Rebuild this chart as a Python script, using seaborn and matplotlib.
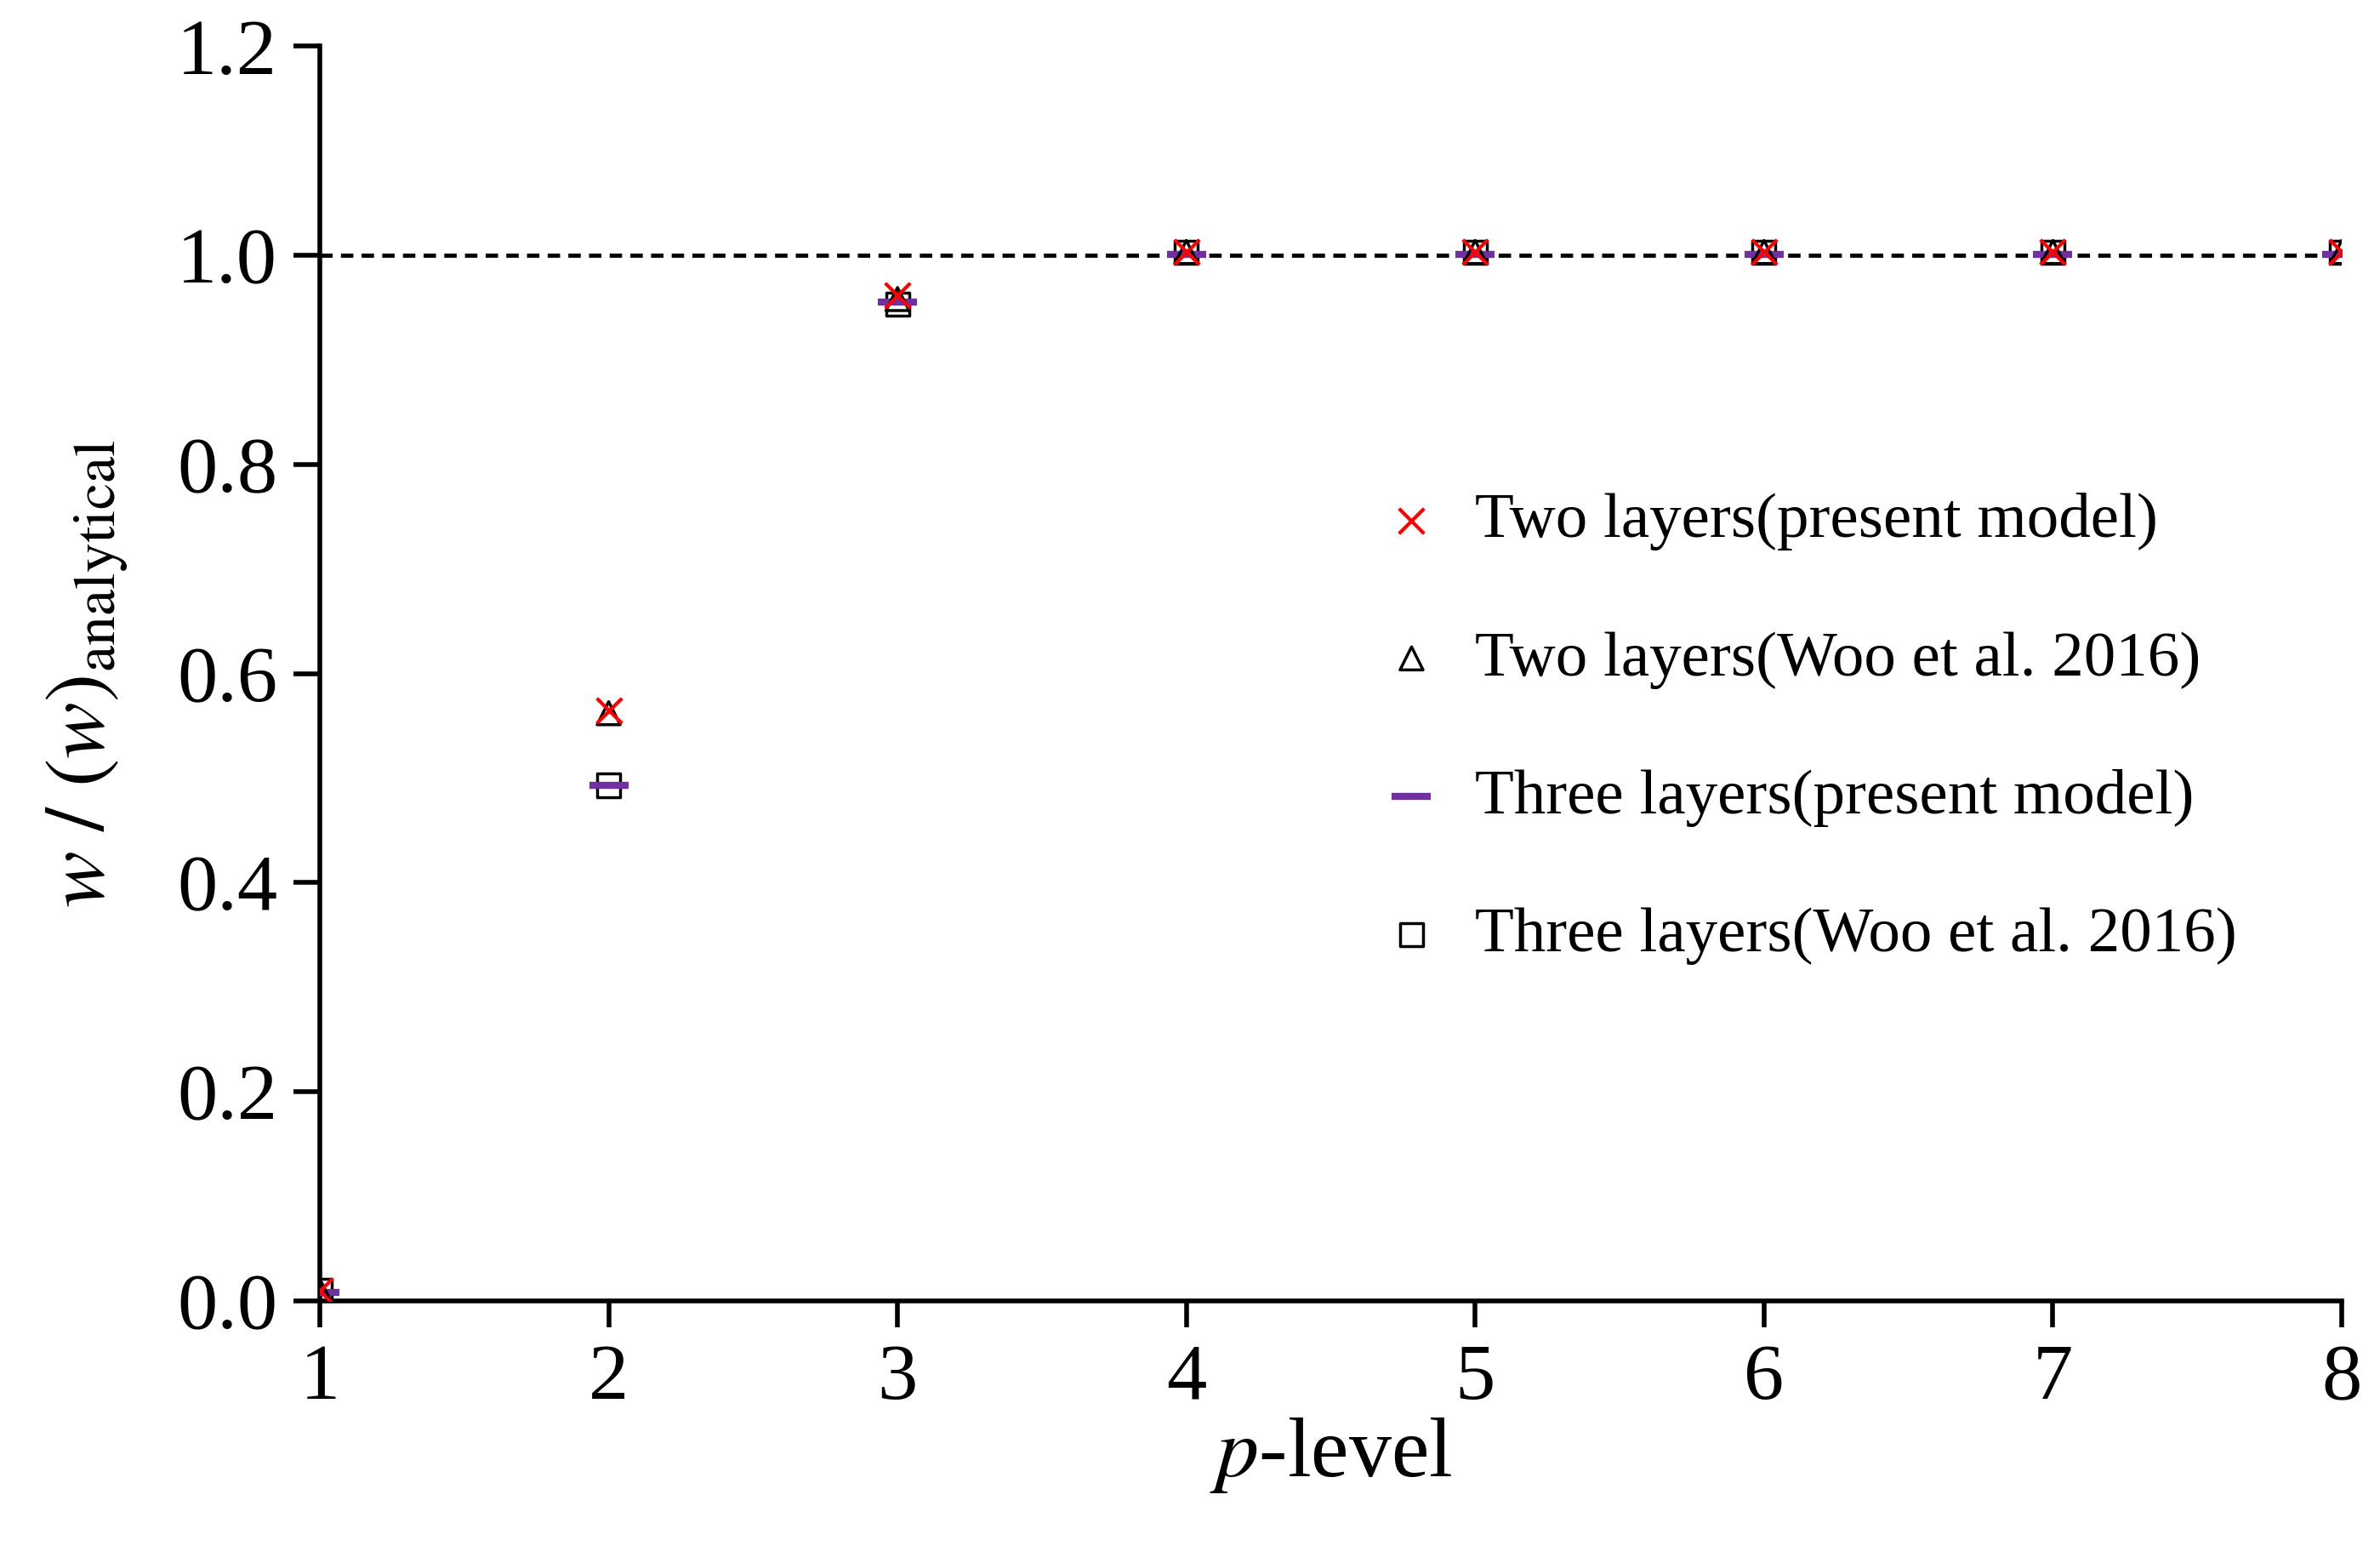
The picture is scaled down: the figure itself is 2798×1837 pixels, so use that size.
import numpy as np
import pandas as pd
import matplotlib
matplotlib.use("Agg")
import matplotlib.pyplot as plt
import seaborn as sns

p_level = [1, 2, 3, 4, 5, 6, 7, 8]
two_present = [0.010, 0.565, 0.962, 1.003, 1.003, 1.003, 1.003, 1.003]
two_woo = [0.010, 0.562, 0.958, 1.003, 1.003, 1.003, 1.003, 1.003]
three_present = [0.008, 0.493, 0.955, 1.001, 1.001, 1.001, 1.001, 1.001]
three_woo = [0.010, 0.493, 0.953, 1.003, 1.003, 1.003, 1.003, 1.003]

sns.set_style("ticks")
plt.rcParams['font.family'] = ['Liberation Serif', 'DejaVu Serif']
plt.rcParams['mathtext.fontset'] = 'stix'
plt.rcParams['text.color'] = 'black'
plt.rcParams['axes.labelcolor'] = 'black'
plt.rcParams['xtick.color'] = 'black'
plt.rcParams['ytick.color'] = 'black'
plt.rcParams['axes.edgecolor'] = 'black'

fig = plt.figure(figsize=(27.98, 18.37), dpi=100)
ax = fig.add_axes([376/2798, 1-1529/1837, (2753-376)/2798, (1529-54)/1837])

ax.axhline(1.0, color='black', ls=(0, (3, 2)), lw=3.5, zorder=1)

df = pd.DataFrame({'p': p_level, 'a': two_present, 'b': two_woo, 'c': three_present, 'd': three_woo})
sns.scatterplot(data=df, x='p', y='d', ax=ax, marker='s', s=380, facecolor='none',
                edgecolor='black', linewidth=2.5, label='Three layers(Woo et al. 2016)', zorder=3)
sns.scatterplot(data=df, x='p', y='c', ax=ax, marker='_', s=1100, color='#7030a0',
                linewidth=6, label='Three layers(present model)', zorder=4)
sns.scatterplot(data=df, x='p', y='b', ax=ax, marker='^', s=380, facecolor='none',
                edgecolor='black', linewidth=2.5, label='Two layers(Woo et al. 2016)', zorder=5)
sns.scatterplot(data=df, x='p', y='a', ax=ax, marker='x', s=450, color='red',
                linewidth=3, label='Two layers(present model)', zorder=6)

ax.set_xlim(1, 8)
ax.set_ylim(0, 1.2)
ax.set_xticks(p_level)
ax.set_yticks(np.arange(0, 1.21, 0.2))
ax.yaxis.set_major_formatter(matplotlib.ticker.FormatStrFormatter('%.1f'))
for s in ['top', 'right']:
    ax.spines[s].set_visible(False)
for s in ['left', 'bottom']:
    ax.spines[s].set_linewidth(4)
ax.tick_params(axis='both', labelsize=68, width=4, length=22, direction='out', pad=14)
ax.set_xlabel(r'$p$-level', fontsize=72, labelpad=0)
ax.set_ylabel(r'$w\ /\ (w)_{\mathrm{analytical}}$', fontsize=72, labelpad=40)

h, l = ax.get_legend_handles_labels()
ax.legend(h[::-1], l[::-1], loc='upper left', bbox_to_anchor=(0.48, 0.69), frameon=False,
          fontsize=54, labelspacing=1.25, handletextpad=0.0, markerscale=1.0)

fig.savefig('out.png', dpi=100)
